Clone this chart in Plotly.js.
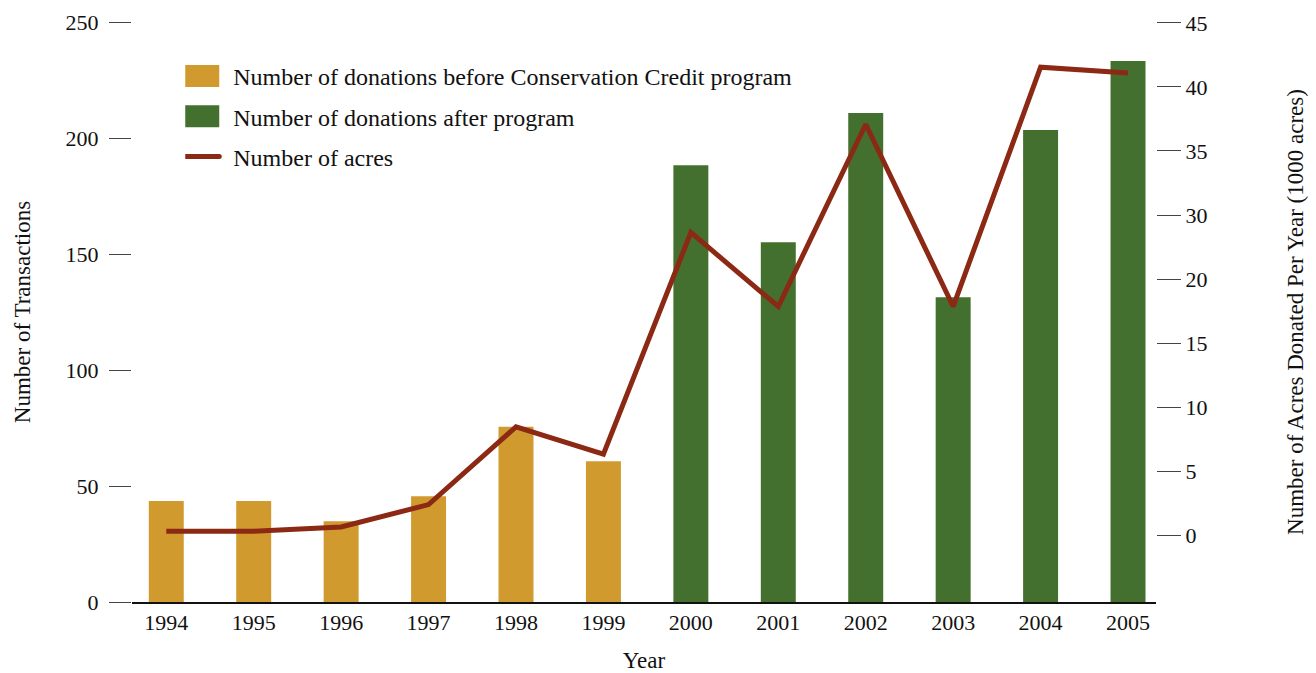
<!DOCTYPE html>
<html>
<head>
<meta charset="utf-8">
<script src="https://cdn.plot.ly/plotly-3.0.1.min.js"></script>
<style>html,body{margin:0;padding:0;background:#fff;}#chart{width:1316px;height:673px;}</style>
</head>
<body>
<div id="chart"></div>
<script>
const years = ["1994","1995","1996","1997","1998","1999","2000","2001","2002","2003","2004","2005"];
const yearsBefore = ["1994","1995","1996","1997","1998","1999"];
const donationsBefore = [43.5, 43.5, 34.8, 45.6, 75.5, 60.7];
const yearsAfter = ["2000","2001","2002","2003","2004","2005"];
const donationsAfter = [188.3, 155.1, 210.8, 131.4, 203.4, 233.2];
const acres = [0.38, 0.38, 0.76, 2.72, 9.54, 7.15, 26.6, 20.1, 36.1, 20.1, 41.1, 40.6];
const leftTicks = [0, 50, 100, 150, 200, 250];
const rightTickText = ["0","5","10","15","20","30","35","40","45"];

const FONT = "Liberation Serif, Times New Roman, serif";
const rightTickVals = rightTickText.map((t, i) => i * 45 / 8);
const TICKF = {family:FONT, size:22, color:"#111"};
const TEXTF = {family:FONT, size:23, color:"#111"};
const LEGF = {family:FONT, size:24, color:"#111"};

const traces = [
  {type:"bar", x: yearsBefore, y: donationsBefore, name:"Number of donations before Conservation Credit program",
   marker:{color:"#D09A2E"}, width:0.4, legendgroup:"a", hoverinfo:"x+y"},
  {type:"bar", x: yearsAfter, y: donationsAfter, name:"Number of donations after program",
   marker:{color:"#44702F"}, width:0.4, legendgroup:"b", hoverinfo:"x+y"},
  {type:"scatter", mode:"lines", x: years, y: acres, name:"Number of acres", yaxis:"y2",
   line:{color:"#8C2914", width:5}, legendgroup:"c"}
];

const layout = {
  width:1316, height:673,
  margin:{l:132, r:160, t:22, b:71},
  paper_bgcolor:"#fff", plot_bgcolor:"rgba(0,0,0,0)",
  font:TEXTF,
  barmode:"overlay",
  showlegend:true,
  legend:{x:0.052, y:0.945, xanchor:"left", yanchor:"top", bgcolor:"rgba(0,0,0,0)",
          font:LEGF, traceorder:"grouped", tracegroupgap:6, itemwidth:38},
  xaxis:{type:"category", categoryorder:"array", categoryarray: years, range:[-0.392, 11.32],
         showline:true, linecolor:"#111", linewidth:1.5, ticks:"", showgrid:false, zeroline:false,
         tickfont:TICKF,
         title:{text:"Year", font:TEXTF, standoff:22}},
  yaxis:{range:[0,250], tickvals: leftTicks, ticks:"outside", ticklen:22, tickcolor:"#444", tickwidth:1,
         showgrid:false, zeroline:false, showline:false, ticklabelstandoff:6,
         tickfont:TICKF,
         title:{text:"Number of Transactions", font:TEXTF, standoff:28}},
  yaxis2:{overlaying:"y", side:"right", range:[-5.83, 45.07], tickvals: rightTickVals, ticktext: rightTickText,
          ticks:"outside", ticklen:24, tickcolor:"#444", tickwidth:1, showgrid:false, zeroline:false, showline:false,
          ticklabelstandoff:0,
          tickfont:TICKF,
          title:{text:"Number of Acres Donated Per Year (1000 acres)", font:TEXTF, standoff:80}}
};

function styleLegend(gd) {
  gd.querySelectorAll('.legend .traces').forEach(function (item) {
    const txt = item.querySelector('text.legendtext');
    if (!txt) return;
    const tx = parseFloat(txt.getAttribute('x')) || 48;
    item.querySelectorAll('.legendpoints path').forEach(function (p) {
      p.removeAttribute('transform');
      p.setAttribute('d', 'M' + (tx - 49) + ',-11H' + (tx - 14) + 'V11H' + (tx - 49) + 'Z');
    });
    item.querySelectorAll('.legendlines path').forEach(function (p) {
      p.removeAttribute('transform');
      p.setAttribute('d', 'M' + (tx - 49) + ',0h35');
      p.style.strokeLinecap = 'round';
    });
  });
}

Plotly.newPlot("chart", traces, layout, {displayModeBar:false, responsive:false}).then(function (gd) {
  styleLegend(gd);
  gd.on('plotly_afterplot', function () { styleLegend(gd); });
});
</script>
</body>
</html>
